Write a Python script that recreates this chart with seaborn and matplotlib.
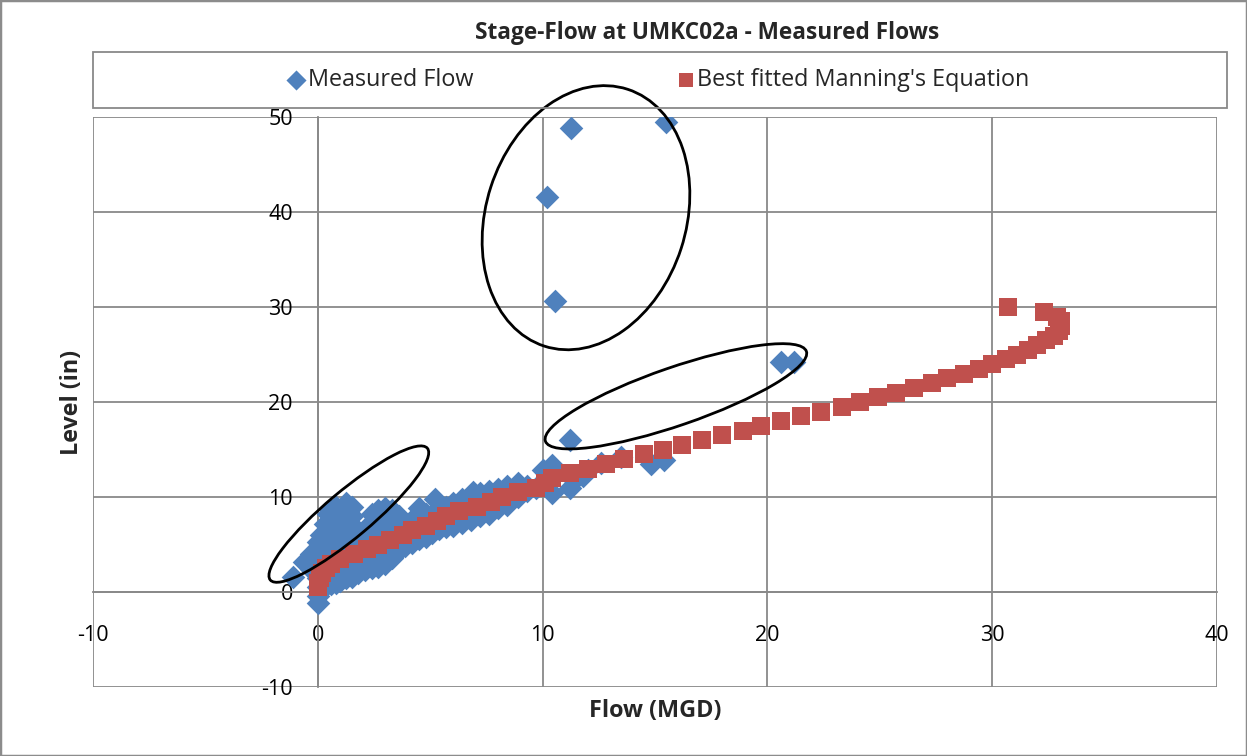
import numpy as np
import pandas as pd
import matplotlib
matplotlib.use('Agg')
import matplotlib.pyplot as plt
import matplotlib.transforms as mtransforms
from matplotlib.patches import Ellipse, Rectangle
import seaborn as sns

# 实测流量 (MGD) 与水位 (in)
flow_measured = [
    0.0, 0.0, 0.0, 0.0, 0.0, 0.0, 0.0, 0.0,
    0.15, 0.15, 0.15, 0.15, 0.15, 0.15, 0.15,
    0.3, 0.3, 0.3, 0.3, 0.3, 0.3, 0.3,
    0.45, 0.45, 0.45, 0.45, 0.45, 0.45, 0.45,
    0.6, 0.6, 0.6, 0.6, 0.6, 0.6, 0.6,
    0.8, 0.8, 0.8, 0.8, 0.8, 0.8, 0.8,
    1.0, 1.0, 1.0, 1.0, 1.0, 1.0,
    1.25, 1.25, 1.25, 1.25, 1.25, 1.25,
    1.5, 1.5, 1.5, 1.5, 1.5, 1.5,
    -1.1, -0.6, -0.3, -0.3,
    1.8, 1.8, 1.8, 1.8,
    2.1, 2.1, 2.1, 2.1,
    2.4, 2.4, 2.4, 2.4, 2.4,
    2.7, 2.7, 2.7, 2.7, 2.7,
    3.0, 3.0, 3.0, 3.0, 3.0,
    3.3, 3.3, 3.3, 3.3, 3.3,
    3.6, 3.6, 3.6, 3.6,
    3.9, 3.9, 3.9,
    4.2, 4.2, 4.2,
    4.5, 4.5, 4.5, 4.5,
    4.8, 4.8, 4.8,
    5.1, 5.1, 5.2,
    5.4, 5.4, 5.4,
    5.7, 5.7, 5.7,
    6.0, 6.0, 6.0,
    6.4, 6.4, 6.4,
    6.8, 6.8, 6.9,
    7.2, 7.2, 7.2,
    7.6, 7.6, 7.6,
    8.0, 8.0, 8.0,
    8.4, 8.4, 8.4,
    8.9, 8.9,
    9.3, 9.3,
    9.7, 10.0, 10.1,
    10.4, 10.4, 10.4,
    11.2, 11.4, 11.2,
    11.8, 12.0, 12.6, 13.5, 14.8, 15.4,
    10.18, 10.56, 11.26, 15.5, 20.6, 21.2,
]
level_measured = [
    -1.2, -0.4, 0.5, 1.5, 2.5, 3.5, 4.5, 5.3,
    0.2, 1.2, 2.2, 3.2, 4.2, 5.2, 6.0,
    0.6, 1.6, 2.8, 4.0, 5.0, 6.2, 7.2,
    0.9, 2.0, 3.2, 4.6, 5.8, 7.0, 8.2,
    0.8, 1.8, 3.0, 4.4, 6.0, 7.5, 8.6,
    1.0, 2.2, 3.6, 5.0, 6.5, 7.8, 9.0,
    1.2, 2.6, 4.0, 5.6, 7.0, 8.4,
    1.5, 3.0, 4.6, 6.2, 7.6, 9.4,
    1.6, 3.2, 4.8, 6.4, 8.0, 9.0,
    1.6, 3.2, 2.4, 4.0,
    2.0, 3.4, 5.0, 6.4,
    2.3, 3.8, 5.2, 6.6,
    2.5, 4.0, 5.5, 7.0, 8.2,
    2.6, 4.2, 5.8, 7.2, 8.6,
    3.0, 4.6, 6.0, 7.5, 8.8,
    3.6, 5.0, 6.4, 7.8, 8.6,
    4.4, 5.6, 7.0, 8.0,
    4.8, 6.0, 7.2,
    5.2, 6.4, 7.6,
    5.6, 6.8, 8.0, 8.8,
    5.8, 7.0, 8.2,
    6.2, 7.4, 9.8,
    6.6, 7.8, 8.8,
    6.8, 8.0, 9.0,
    7.0, 8.2, 9.4,
    7.3, 8.6, 9.8,
    7.6, 8.8, 10.5,
    8.0, 9.2, 10.4,
    8.2, 9.6, 10.6,
    8.8, 9.8, 10.8,
    9.2, 10.2, 11.2,
    10.0, 11.5,
    10.6, 11.2,
    11.0, 12.8, 11.4,
    10.4, 12.4, 13.4,
    11.0, 11.8, 16.0,
    12.2, 12.8, 13.6, 14.2, 13.5, 13.9,
    41.6, 30.6, 48.8, 49.5, 24.2, 24.2,
]

# 曼宁公式拟合曲线
level_manning = [
    0.5, 1.0, 1.5, 2.0, 2.5, 3.0, 3.5, 4.0, 4.5, 5.0,
    5.5, 6.0, 6.5, 7.0, 7.5, 8.0, 8.5, 9.0, 9.5, 10.0,
    10.5, 11.0, 11.5, 12.0, 12.5, 13.0, 13.5, 14.0, 14.5, 15.0,
    15.5, 16.0, 16.5, 17.0, 17.5, 18.0, 18.5, 19.0, 19.5, 20.0,
    20.5, 21.0, 21.5, 22.0, 22.5, 23.0, 23.5, 24.0, 24.5, 25.0,
    25.5, 26.0, 26.5, 27.0, 27.5, 28.0, 28.5, 29.0, 29.5, 30.0,
]
flow_manning = [
    0.0, 0.02, 0.08, 0.18, 0.35, 0.6, 1.0, 1.6, 2.2, 2.7,
    3.2, 3.8, 4.2, 4.8, 5.3, 5.7, 6.3, 7.1, 7.7, 8.2,
    8.9, 9.7, 10.1, 10.4, 11.2, 12.0, 12.8, 13.6, 14.5, 15.35,
    16.2, 17.1, 18.0, 18.9, 19.7, 20.6, 21.5, 22.4, 23.3, 24.1,
    24.9, 25.7, 26.5, 27.3, 28.0, 28.75, 29.4, 30.0, 30.6, 31.1,
    31.6, 32.0, 32.4, 32.75, 32.95, 33.05, 33.05, 32.9, 32.3, 30.7,
]

measured = pd.DataFrame({'Flow': flow_measured, 'Level': level_measured})
manning = pd.DataFrame({'Flow': flow_manning, 'Level': level_manning})

sns.set_style('white')
plt.rcParams['font.family'] = ['Open Sans', 'DejaVu Sans']
plt.rcParams['axes.unicode_minus'] = False

W, H = 1247, 756
fig = plt.figure(figsize=(W / 100, H / 100), dpi=100)
ax = fig.add_axes([93 / W, 1 - 687 / H, (1217 - 93) / W, (687 - 117) / H])

blue = '#4F81BD'
red = '#C0504D'
grid_c = '#898989'

sns.scatterplot(data=measured, x='Flow', y='Level', marker='D', s=145,
                color=blue, linewidth=0, label='Measured Flow', ax=ax, zorder=3)
sns.scatterplot(data=manning, x='Flow', y='Level', marker='s', s=150,
                color=red, linewidth=0, label="Best fitted Manning's Equation", ax=ax, zorder=4)

ax.set_xlim(-10, 40)
ax.set_ylim(-10, 50)
ax.set_xticks([-10, 0, 10, 20, 30, 40])
ax.set_yticks([-10, 0, 10, 20, 30, 40, 50])
ax.grid(True, color=grid_c, linewidth=1.3)
for gl in ax.get_xgridlines() + ax.get_ygridlines():
    gl.set_clip_on(False)

ax.spines['left'].set_position(('data', 0))
ax.spines['bottom'].set_position(('data', 0))
for sp in ax.spines.values():
    sp.set_color(grid_c)
    sp.set_linewidth(1.3)
ax.spines['top'].set_visible(False)
ax.spines['right'].set_visible(False)
ax.tick_params(axis='both', direction='out', length=5, color=grid_c,
               labelsize=15.5, labelcolor='black')
ax.tick_params(axis='y', pad=13)
ax.tick_params(axis='x', pad=19)
ax.set_xlabel('')
ax.set_ylabel('')

# 标注椭圆（像素尺寸）
ellipses = [
    (11.93, 39.4, 270, 200, 72),
    (15.93, 20.6, 276, 58, 19),
    (1.38, 8.2, 205, 46, 40),
]
for cx, cy, w, h, ang in ellipses:
    trans = fig.dpi_scale_trans + mtransforms.ScaledTranslation(cx, cy, ax.transData)
    ax.add_patch(Ellipse((0, 0), w / 100, h / 100, angle=ang, transform=trans,
                         fill=False, edgecolor='black', linewidth=2.0, zorder=5,
                         clip_on=False))

# 图例
fig.patches.append(Rectangle((93 / W, 1 - 108 / H), (1227 - 93) / W, (108 - 52) / H,
                             transform=fig.transFigure, fill=False,
                             edgecolor=grid_c, linewidth=1.3))
ax.legend(loc='center', bbox_to_anchor=(657 / W, 1 - 80 / H), bbox_transform=fig.transFigure,
          ncol=2, frameon=False, fontsize=16.8, columnspacing=8.6,
          handletextpad=0.0, handlelength=1.0, markerscale=0.85)

fig.text(707 / W, 1 - 33 / H, 'Stage-Flow at UMKC02a - Measured Flows',
         ha='center', va='center', fontsize=16.3, fontweight='bold')
fig.text(655 / W, 1 - 711 / H, 'Flow (MGD)', ha='center', va='center',
         fontsize=16.8, fontweight='bold')
fig.text(72 / W, 1 - 402 / H, 'Level (in)', ha='center', va='center',
         fontsize=16.8, fontweight='bold', rotation=90)

fig.patches.append(Rectangle((0, 0), 1, 1, transform=fig.transFigure, fill=False,
                             edgecolor='#8c8c8c', linewidth=2.5))

fig.savefig('out.png', dpi=100)
